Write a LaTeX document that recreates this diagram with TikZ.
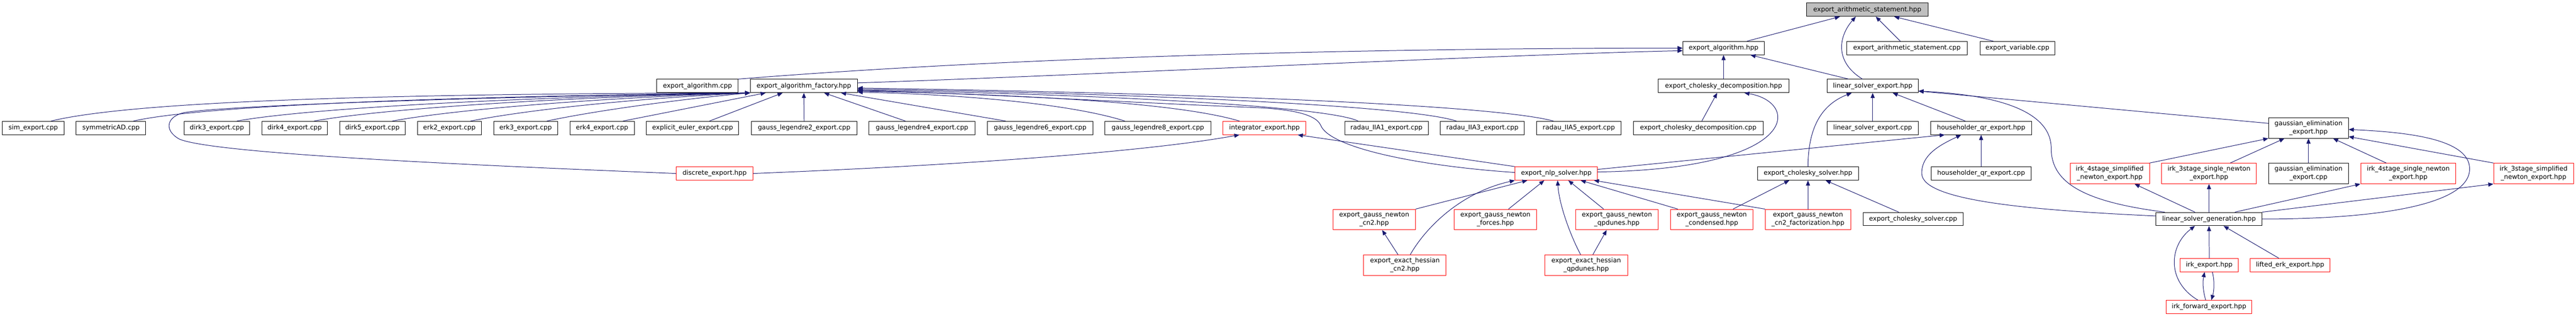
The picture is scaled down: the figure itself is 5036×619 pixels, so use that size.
\documentclass[tikz,border=0pt]{standalone}
\usepackage{fontspec}
\setmainfont{DejaVu Sans}
\usetikzlibrary{arrows.meta,calc}
\definecolor{edgec}{HTML}{191970}
\definecolor{topfill}{HTML}{BFBFBF}
\begin{document}
\begin{tikzpicture}[x=1pt,y=-1pt,
  nb/.style={draw=black,line width=1pt,inner sep=0pt,font=\fontsize{12.6}{16}\selectfont,align=center,fill=white},
  nr/.style={nb,draw=red},
  hA/.style={minimum height=26pt},
  hB/.style={minimum height=40pt},
  e/.style={draw=edgec,line width=1pt,-{Triangle[length=10pt,width=8pt]}}]
\fill[white] (0,0) rectangle (5036,619);
\useasboundingbox (0,0) rectangle (5036,619);
% row A/B/C
\node[nb,fill=topfill,minimum width=237pt,hA] (top) at (3650.5,19) {export\_arithmetic\_statement.hpp};
\node[nb,minimum width=159pt,hA] (alg) at (3369.5,94) {export\_algorithm.hpp};
\node[nb,minimum width=236pt,hA] (aspp) at (3728,94) {export\_arithmetic\_statement.cpp};
\node[nb,minimum width=146pt,hA] (var) at (3944,94) {export\_variable.cpp};
\node[nb,minimum width=159pt,hA] (algcpp) at (1363.5,168) {export\_algorithm.cpp};
\node[nb,minimum width=209pt,hA] (fac) at (1571.5,168) {export\_algorithm\_factory.hpp};
\node[nb,minimum width=255pt,hA] (chd) at (3369.5,168) {export\_cholesky\_decomposition.hpp};
\node[nb,minimum width=178pt,hA] (lse) at (3661,168) {linear\_solver\_export.hpp};
% row D
\node[nb,minimum width=120pt,hA] (sim) at (65,250) {sim\_export.cpp};
\node[nb,minimum width=136pt,hA] (symm) at (217,250) {symmetricAD.cpp};
\node[nb,minimum width=128pt,hA] (dirk3) at (424,250) {dirk3\_export.cpp};
\node[nb,minimum width=128pt,hA] (dirk4) at (576,250) {dirk4\_export.cpp};
\node[nb,minimum width=128pt,hA] (dirk5) at (728,250) {dirk5\_export.cpp};
\node[nb,minimum width=125pt,hA] (erk2) at (878.5,250) {erk2\_export.cpp};
\node[nb,minimum width=125pt,hA] (erk3) at (1027.5,250) {erk3\_export.cpp};
\node[nb,minimum width=126pt,hA] (erk4) at (1177,250) {erk4\_export.cpp};
\node[nb,minimum width=180pt,hA] (ee) at (1354,250) {explicit\_euler\_export.cpp};
\node[nb,minimum width=206pt,hA] (gl2) at (1572,250) {gauss\_legendre2\_export.cpp};
\node[nb,minimum width=207pt,hA] (gl4) at (1802.5,250) {gauss\_legendre4\_export.cpp};
\node[nb,minimum width=207pt,hA] (gl6) at (2033.5,250) {gauss\_legendre6\_export.cpp};
\node[nb,minimum width=207pt,hA] (gl8) at (2263.5,250) {gauss\_legendre8\_export.cpp};
\node[nr,minimum width=162pt,hA] (integ) at (2472,250) {integrator\_export.hpp};
\node[nb,minimum width=163pt,hA] (r1) at (2710.5,250) {radau\_IIA1\_export.cpp};
\node[nb,minimum width=164pt,hA] (r3) at (2898,250) {radau\_IIA3\_export.cpp};
\node[nb,minimum width=165pt,hA] (r5) at (3086.5,250) {radau\_IIA5\_export.cpp};
\node[nb,minimum width=254pt,hA] (chdcpp) at (3320,250) {export\_cholesky\_decomposition.cpp};
\node[nb,minimum width=178pt,hA] (lsecpp) at (3661,250) {linear\_solver\_export.cpp};
\node[nb,minimum width=198pt,hA] (hh) at (3873,250) {householder\_qr\_export.hpp};
\node[nb,minimum width=156pt,hB] (ge) at (4513,250) {gaussian\_elimination\\\_export.hpp};
% row E
\node[nr,minimum width=150pt,hA] (disc) at (1397,339) {discrete\_export.hpp};
\node[nr,minimum width=161pt,hA] (nlp) at (3042.5,339) {export\_nlp\_solver.hpp};
\node[nb,minimum width=197pt,hA] (chs) at (3534.5,339) {export\_cholesky\_solver.hpp};
\node[nb,minimum width=196pt,hA] (hhcpp) at (3873,339) {householder\_qr\_export.cpp};
\node[nr,minimum width=155pt,hB] (i4simp) at (4124.5,339) {irk\_4stage\_simplified\\\_newton\_export.hpp};
\node[nr,minimum width=185pt,hB] (i3sing) at (4318.5,339) {irk\_3stage\_single\_newton\\\_export.hpp};
\node[nb,minimum width=156pt,hB] (gecpp) at (4513,339) {gaussian\_elimination\\\_export.cpp};
\node[nr,minimum width=186pt,hB] (i4sing) at (4708,339) {irk\_4stage\_single\_newton\\\_export.hpp};
\node[nr,minimum width=156pt,hB] (i3simp) at (4953,339) {irk\_3stage\_simplified\\\_newton\_export.hpp};
% row F
\node[nr,minimum width=161pt,hB] (gncn2) at (2686.5,429) {export\_gauss\_newton\\\_cn2.hpp};
\node[nr,minimum width=161pt,hB] (gnf) at (2923.5,429) {export\_gauss\_newton\\\_forces.hpp};
\node[nr,minimum width=162pt,hB] (gnqp) at (3161,429) {export\_gauss\_newton\\\_qpdunes.hpp};
\node[nr,minimum width=161pt,hB] (gncond) at (3346.5,429) {export\_gauss\_newton\\\_condensed.hpp};
\node[nr,minimum width=167pt,hB] (gnfact) at (3534.5,429) {export\_gauss\_newton\\\_cn2\_factorization.hpp};
\node[nb,minimum width=196pt,hA] (chscpp) at (3740,428) {export\_cholesky\_solver.cpp};
\node[nb,minimum width=207pt,hA] (lsg) at (4318.5,428) {linear\_solver\_generation.hpp};
% row G/H
\node[nr,minimum width=161pt,hB] (ehcn2) at (2746.5,518) {export\_exact\_hessian\\\_cn2.hpp};
\node[nr,minimum width=162pt,hB] (ehqp) at (3101,518) {export\_exact\_hessian\\\_qpdunes.hpp};
\node[nr,minimum width=114pt,hA] (irk) at (4319,518) {irk\_export.hpp};
\node[nr,minimum width=156pt,hA] (lifted) at (4477,518) {lifted\_erk\_export.hpp};
\node[nr,minimum width=167pt,hA] (irkf) at (4318.5,600) {irk\_forward\_export.hpp};
% edges into top
\draw[e] ([xshift=45.5pt]alg.north) -- ([xshift=-53.5pt]top.south);
\draw[e] ([xshift=-20pt]lse.north) .. controls (3585,120) and (3595,70) .. ([xshift=-22.5pt]top.south);
\draw[e] ([xshift=-13pt]aspp.north) -- ([xshift=16.5pt]top.south);
\draw[e] ([xshift=-47pt]var.north) -- ([xshift=52.5pt]top.south);
% into alg
\draw[e] (algcpp.north east) .. controls (2000,110) and (2700,94) .. (alg.west);
\draw[e] ([yshift=6pt]fac.east) .. controls (2100,148) and (2900,108) .. ([yshift=-5pt]alg.west);
\draw[e] (chd.north) -- (alg.south);
\draw[e] ([xshift=-47pt]lse.north) -- ([xshift=52.5pt]alg.south);
% into chd
\draw[e] ([xshift=7pt]chdcpp.north) -- ([xshift=-12.5pt]chd.south);
\draw[e] ([yshift=3pt]nlp.east) .. controls (3520,330) and (3520,200) .. ([xshift=40.5pt]chd.south);
% into lse
\draw[e] (lsecpp.north) -- (lse.south);
\draw[e] (chs.north) .. controls (3535,250) and (3560,205) .. ([xshift=-41pt]lse.south);
\draw[e] ([xshift=-31pt]hh.north) -- ([xshift=39pt]lse.south);
\draw[e] ([yshift=9pt]ge.west) -- ([yshift=-10pt]lse.east);
\draw[e] ([xshift=-86.5pt]lsg.north) .. controls (4080,395) and (4010,360) .. (4010,290) .. controls (4010,215) and (3900,185) .. ([yshift=-10pt]lse.east);
% into nlp
\draw[e] (gncn2.north east) -- ([xshift=-56.5pt]nlp.south);
\draw[e] ([xshift=10.5pt]ehcn2.north) .. controls (2790,440) and (2860,375) .. (nlp.south west);
\draw[e] ([xshift=25.5pt]gnf.north) -- ([xshift=-23.5pt]nlp.south);
\draw[e] ([xshift=-11pt]ehqp.north) .. controls (3070,460) and (3048,400) .. ([xshift=2.5pt]nlp.south);
\draw[e] ([xshift=-26pt]gnqp.north) -- ([xshift=23.5pt]nlp.south);
\draw[e] ([xshift=-66.5pt]gncond.north) -- ([xshift=47.5pt]nlp.south);
\draw[e] (gnfact.north west) -- ([xshift=73.5pt]nlp.south);
\draw[e] ([xshift=-13.5pt]ehcn2.north) -- ([xshift=15.5pt]gncn2.south);
\draw[e] ([xshift=13pt]ehqp.north) -- ([xshift=-20pt]gnqp.south);
% into chs
\draw[e] ([xshift=41.5pt]gncond.north) -- ([xshift=-36.5pt]chs.south);
\draw[e] (gnfact.north) -- (chs.south);
\draw[e] ([xshift=-28pt]chscpp.north) -- ([xshift=34.5pt]chs.south);
% into hh
\draw[e] (hhcpp.north) -- (hh.south);
\draw[e] ([yshift=8pt]nlp.east) -- ([xshift=-71pt]hh.south);
\draw[e] ([yshift=6pt]lsg.west) .. controls (3950,410) and (3760,390) .. (3757,340) .. controls (3755,300) and (3800,280) .. ([xshift=-39pt]hh.south);
% from lsg upward
\draw[e] ([xshift=-27.5pt]lsg.north) -- ([xshift=48.5pt]i4simp.south);
\draw[e] (lsg.north) -- (i3sing.south);
\draw[e] ([xshift=50.5pt]lsg.north) -- (i4sing.south west);
\draw[e] (lsg.north east) -- (i3simp.south west);
\draw[e] (lsg.east) .. controls (4650,428) and (4828,400) .. (4828,330) .. controls (4828,270) and (4700,258) .. ([yshift=-3pt]ge.east);
% into lsg
\draw[e] (irk.north) -- (lsg.south);
\draw[e] ([xshift=-21.5pt]irkf.north) .. controls (4235,550) and (4240,480) .. ([xshift=-27.5pt]lsg.south);
\draw[e] ([xshift=-22pt]lifted.north) -- ([xshift=28.5pt]lsg.south);
\draw[e] ([xshift=-6.5pt]irkf.north) .. controls (4306,565) and (4306,550) .. ([xshift=-9pt]irk.south);
\draw[e] ([xshift=6pt]irk.south) .. controls (4330,550) and (4328,570) .. ([xshift=4.5pt]irkf.north);
% into ge
\draw[e] (i4simp.north east) -- (ge.south west);
\draw[e] ([xshift=41.5pt]i3sing.north) -- ([xshift=-47pt]ge.south);
\draw[e] (gecpp.north) -- (ge.south);
\draw[e] ([xshift=-43pt]i4sing.north) -- ([xshift=48pt]ge.south);
\draw[e] (i3simp.north west) -- ([yshift=-17pt]ge.east);
% into integ
\draw[e] (disc.east) .. controls (1900,322) and (2250,295) .. ([xshift=-49pt]integ.south);
\draw[e] (nlp.north west) -- ([xshift=65pt]integ.south);
% into fac from right
\draw[e] ([xshift=-64.5pt]gl8.north) .. controls (2100,205) and (1900,185) .. ([yshift=-12pt]fac.east);
\draw[e] ([xshift=-49pt]integ.north) .. controls (2300,200) and (2000,185) .. ([yshift=-10pt]fac.east);
\draw[e] ([xshift=-55.5pt]r1.north) .. controls (2600,210) and (2200,185) .. ([yshift=-8pt]fac.east);
\draw[e] ([xshift=-51pt]r3.north) .. controls (2750,205) and (2200,182) .. ([yshift=-6pt]fac.east);
\draw[e] ([xshift=-49.5pt]r5.north) .. controls (2900,200) and (2200,180) .. ([yshift=-4pt]fac.east);
\draw[e] ([yshift=2pt]nlp.west) .. controls (2780,325) and (2600,290) .. (2582,245) .. controls (2572,222) and (2520,213) .. (2450,210) .. controls (2200,200) and (1900,182) .. ([yshift=-9pt]fac.east);
% into fac from below
\draw[e] ([xshift=-32.5pt]gl4.north) -- ([xshift=39.5pt]fac.south);
\draw[e] ([xshift=-67.5pt]gl6.north) -- ([xshift=72.5pt]fac.south);
\draw[e] (gl2.north) -- (fac.south);
\draw[e] ([xshift=33pt]ee.north) -- ([xshift=-41.5pt]fac.south);
\draw[e] ([xshift=41pt]erk4.north) -- ([xshift=-74.5pt]fac.south);
% into fac from left
\draw[e] ([xshift=35pt]sim.north) .. controls (250,200) and (700,183) .. (fac.south west);
\draw[e] ([xshift=44pt]symm.north) .. controls (400,205) and (900,188) .. (fac.south west);
\draw[e] ([xshift=39pt]dirk3.north) .. controls (600,212) and (1000,190) .. (fac.south west);
\draw[e] ([xshift=38pt]dirk4.north) .. controls (750,212) and (1100,190) .. (fac.south west);
\draw[e] ([xshift=39pt]dirk5.north) .. controls (900,212) and (1200,190) .. (fac.south west);
\draw[e] ([xshift=41.5pt]erk2.north) .. controls (1040,213) and (1250,192) .. (fac.south west);
\draw[e] ([xshift=41.5pt]erk3.north) .. controls (1180,213) and (1350,192) .. (fac.south west);
\draw[e] (disc.west) .. controls (900,322) and (420,300) .. (351,272) .. controls (320,255) and (325,228) .. (360,220) .. controls (450,205) and (1000,188) .. (fac.south west);
\end{tikzpicture}
\end{document}
